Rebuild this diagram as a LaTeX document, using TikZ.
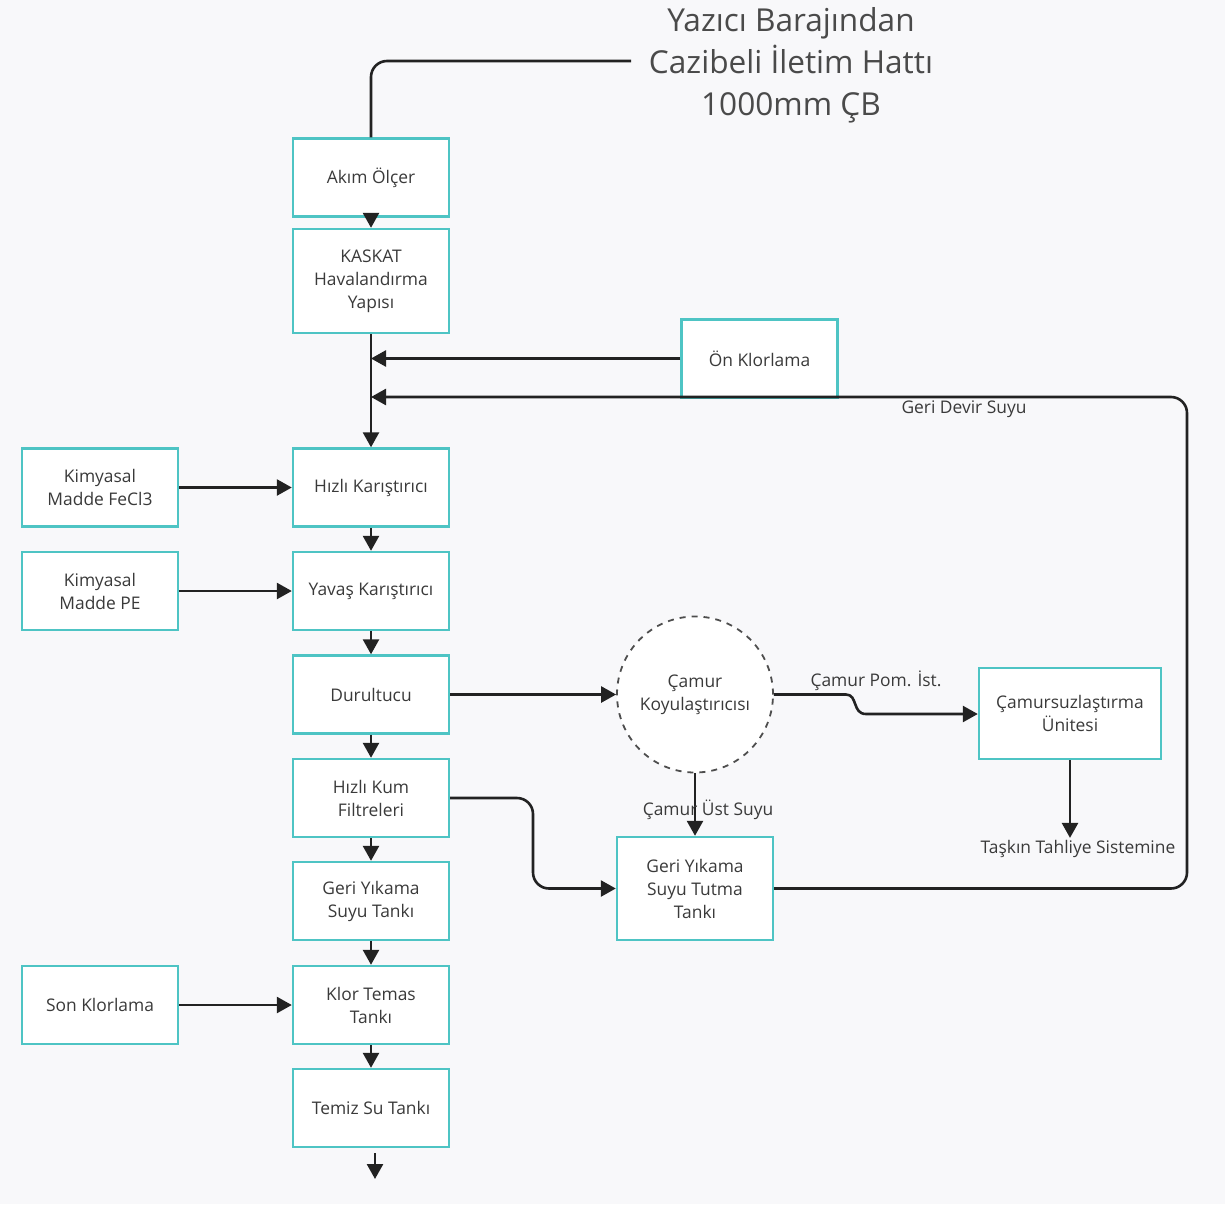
\documentclass[tikz,border=0pt]{standalone}
\usepackage{fontspec}
\setmainfont{Open Sans}
\usetikzlibrary{arrows.meta,shapes.geometric}
\definecolor{bgc}{HTML}{F8F8FA}
\definecolor{boxc}{HTML}{4EC4C4}
\definecolor{txtc}{HTML}{3A3A3A}
\definecolor{titc}{HTML}{4A4A4A}
\definecolor{linec}{HTML}{222222}
\tikzset{
  x=0.5pt,y=-0.5pt,
  box/.style={draw=boxc,fill=white,line width=1.2pt,minimum width=78pt,minimum height=39pt,
     inner sep=2pt,align=center,text=txtc,font=\fontsize{8.7}{11.5}\selectfont},
  conn/.style={draw=linec,line width=1.3pt,-{Triangle[length=7.5pt,width=8pt]}},
  plain/.style={draw=linec,line width=1.3pt},
  lbl/.style={text=txtc,font=\fontsize{8.7}{11.5}\selectfont,inner sep=1pt},
}
\begin{document}
\begin{tikzpicture}
\fill[bgc] (0,0) rectangle (1225,1204);
\useasboundingbox (0,0) rectangle (1225,1204);

% title
\node[text=titc,align=center,font=\fontsize{15.8}{21}\selectfont] (title) at (791,65) {Yazıcı Barajından\\Cazibeli İletim Hattı\\1000mm ÇB};

% main column
\node[box] (akim) at (371,177.5) {Akım Ölçer};
\node[box,minimum height=52pt] (kaskat) at (371,281) {KASKAT\\Havalandırma\\Yapısı};
\node[box] (onk) at (759.5,358.5) {Ön Klorlama};
\node[box] (hizli) at (371,487.5) {Hızlı Karıştırıcı};
\node[box] (fecl) at (100,487.5) {Kimyasal\\Madde FeCl3};
\node[box] (yavas) at (371,591) {Yavaş Karıştırıcı};
\node[box] (pe) at (100,591) {Kimyasal\\Madde PE};
\node[box] (durul) at (371,694.5) {Durultucu};
\node[box] (kum) at (371,798) {Hızlı Kum\\Filtreleri};
\node[box] (gytank) at (371,901) {Geri Yıkama\\Suyu Tankı};
\node[box] (klor) at (371,1005) {Klor Temas\\Tankı};
\node[box] (son) at (100,1005) {Son Klorlama};
\node[box] (temiz) at (371,1108) {Temiz Su Tankı};

% right side
\node[circle,draw=linec!80,dashed,line width=0.9pt,fill=white,minimum size=78pt,inner sep=0pt,
  align=center,text=txtc,font=\fontsize{8.7}{11.5}\selectfont] (camur) at (695,694.5) {Çamur\\Koyulaştırıcısı};
\node[box,minimum width=91pt,minimum height=45.5pt] (camsuz) at (1070,713.5) {Çamursuzlaştırma\\Ünitesi};
\node[box,minimum height=51.5pt] (tutma) at (695,888.5) {Geri Yıkama\\Suyu Tutma\\Tankı};

% labels
\node[lbl] (taskin) at (1078,849) {Taşkın Tahliye Sistemine};
\node[lbl] (pomlbl) at (876,681) {Çamur Pom. İst.};
\node[lbl] (geridevlbl) at (964,409) {Geri Devir Suyu};

\coordinate (tend) at (631,61);
\coordinate (out1) at (375,1153);
\coordinate (out2) at (375,1179);
\coordinate (j1) at (371,358.5);
\coordinate (j2) at (371,397);

% connectors
\draw[plain,rounded corners=8pt] (tend) -- (371,61) -- (akim.north);
\draw[conn] (akim) -- (kaskat);
\draw[conn] (kaskat) -- (hizli);
\draw[conn] (onk.west) -- (j1);
\draw[conn,rounded corners=8pt] (tutma.east) -- (1187,888.5) -- (1187,397) -- (j2);
\draw[conn] (fecl) -- (hizli);
\draw[conn] (pe) -- (yavas);
\draw[conn] (hizli) -- (yavas);
\draw[conn] (yavas) -- (durul);
\draw[conn] (durul) -- (kum);
\draw[conn] (kum) -- (gytank);
\draw[conn] (gytank) -- (klor);
\draw[conn] (son) -- (klor);
\draw[conn] (klor) -- (temiz);
\draw[conn] (out1) -- (out2);
\draw[conn] (durul) -- (camur);
\draw[conn] (camur.east) -- (846,694.5) .. controls (858,694.5) and (852,714) .. (866,714) -- (camsuz.west |- 0,714);
\draw[conn] (camur) -- (tutma);
\node[lbl] (ustlbl) at (708,810) {Çamur Üst Suyu};
\draw[conn] (camsuz.south) -- (camsuz.south |- taskin.north);
\draw[conn,rounded corners=8pt] (kum.east) -- (533,798) -- (533,888.5) -- (tutma.west);
\end{tikzpicture}
\end{document}
